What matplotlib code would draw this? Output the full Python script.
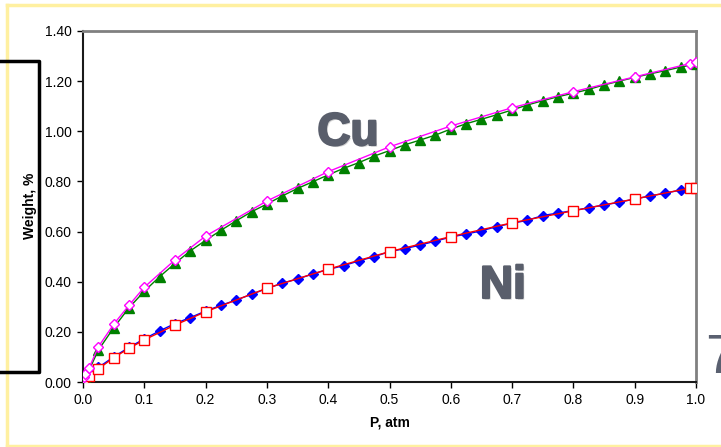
import matplotlib.pyplot as plt
import matplotlib.patheffects as pe
from matplotlib.lines import Line2D

plt.rcParams['font.family'] = ['Liberation Sans', 'DejaVu Sans']

# Cu - open magenta diamonds
p_cu_open = [0.001, 0.003, 0.01, 0.025, 0.05, 0.075, 0.1, 0.15, 0.2, 0.3, 0.4, 0.5, 0.6, 0.7, 0.8, 0.9, 0.99, 1.0]
w_cu_open = [0.02, 0.032, 0.056, 0.14, 0.23, 0.306, 0.378, 0.487, 0.582, 0.722, 0.839, 0.938, 1.021, 1.094, 1.158, 1.217, 1.270, 1.275]

# Cu - green triangles
p_cu_tri = [0.0, 0.003, 0.01, 0.025, 0.05, 0.075, 0.1, 0.125, 0.15, 0.175, 0.2, 0.225, 0.25, 0.275, 0.3,
            0.325, 0.35, 0.375, 0.4, 0.425, 0.45, 0.475, 0.5, 0.525, 0.55, 0.575, 0.6, 0.625, 0.65,
            0.675, 0.7, 0.725, 0.75, 0.775, 0.8, 0.825, 0.85, 0.875, 0.9, 0.925, 0.95, 0.975, 1.0]
w_cu_tri = [0.008, 0.02, 0.048, 0.127, 0.216, 0.296, 0.362, 0.42, 0.473, 0.523, 0.565, 0.605, 0.643, 0.679, 0.71,
            0.742, 0.772, 0.799, 0.826, 0.852, 0.875, 0.901, 0.923, 0.946, 0.965, 0.985, 1.009, 1.030, 1.048,
            1.066, 1.085, 1.105, 1.122, 1.138, 1.152, 1.167, 1.185, 1.2, 1.215, 1.229, 1.242, 1.256, 1.268]

# Ni - blue filled diamonds
p_ni_dia = [0.0, 0.01, 0.025, 0.05, 0.075, 0.1, 0.125, 0.15, 0.175, 0.2, 0.225, 0.25, 0.275, 0.3,
            0.325, 0.35, 0.375, 0.4, 0.425, 0.45, 0.475, 0.5, 0.525, 0.55, 0.575, 0.6, 0.625, 0.65,
            0.675, 0.7, 0.725, 0.75, 0.775, 0.8, 0.825, 0.85, 0.875, 0.9, 0.925, 0.95, 0.975, 1.0]
w_ni_dia = [0.0, 0.028, 0.058, 0.1, 0.138, 0.172, 0.204, 0.233, 0.257, 0.283, 0.306, 0.327, 0.35, 0.373,
            0.394, 0.411, 0.431, 0.449, 0.464, 0.483, 0.50, 0.52, 0.532, 0.546, 0.562, 0.578, 0.59, 0.603,
            0.62, 0.633, 0.645, 0.664, 0.674, 0.684, 0.695, 0.706, 0.717, 0.73, 0.742, 0.753, 0.766, 0.775]

# Ni - open red squares
p_ni_sq = [0.0, 0.01, 0.025, 0.05, 0.075, 0.1, 0.15, 0.2, 0.3, 0.4, 0.5, 0.6, 0.7, 0.8, 0.9, 0.99, 1.0]
w_ni_sq = [0.0, 0.025, 0.052, 0.097, 0.134, 0.168, 0.227, 0.28, 0.374, 0.45, 0.52, 0.58, 0.635, 0.683, 0.73, 0.773, 0.775]

x_ticks = [0.0, 0.1, 0.2, 0.3, 0.4, 0.5, 0.6, 0.7, 0.8, 0.9, 1.0]
y_ticks = [0.0, 0.2, 0.4, 0.6, 0.8, 1.0, 1.2, 1.4]

fig = plt.figure(figsize=(7.21, 4.47), dpi=100)
ax = fig.add_axes([83 / 721, 1 - 382 / 447, 613 / 721, 351 / 447])

# Ni curves
ax.plot(p_ni_dia, w_ni_dia, color='#0000ff', lw=1.0, marker='D', ms=5.5,
        mfc='#0000ff', mec='#0000ff', zorder=3)
ax.plot(p_ni_sq, w_ni_sq, color='#ff0000', lw=1.0, marker='s', ms=7,
        mfc='white', mec='#ff0000', mew=1.0, zorder=4)

# Cu curves
ax.plot(p_cu_tri, w_cu_tri, color='#008000', lw=1.0, marker='^', ms=7,
        mfc='#008000', mec='#008000', zorder=3)
ax.plot(p_cu_open, w_cu_open, color='#ff00ff', lw=1.0, marker='D', ms=5.5,
        mfc='white', mec='#ff00ff', mew=1.0, zorder=4)

ax.set_xlim(0, 1.0)
ax.set_ylim(0, 1.4)
ax.set_xticks(x_ticks)
ax.set_xticklabels([f'{v:.1f}' for v in x_ticks])
ax.set_yticks(y_ticks)
ax.set_yticklabels([f'{v:.2f}' for v in y_ticks])
ax.tick_params(direction='out', length=4, width=1, colors='black', labelsize=10, pad=4)

ax.spines['left'].set_color('#1a1a1a')
ax.spines['bottom'].set_color('#1a1a1a')
ax.spines['left'].set_linewidth(1.5)
ax.spines['bottom'].set_linewidth(1.5)
ax.spines['top'].set_color('#808080')
ax.spines['right'].set_color('#808080')
ax.spines['top'].set_linewidth(2)
ax.spines['right'].set_linewidth(2)

ax.set_xlabel('P, atm', fontsize=10, fontweight='bold', labelpad=6)
fig.text(30 / 721, 1 - 206 / 447, 'Weight, %', rotation=90, fontsize=10, fontweight='bold',
         ha='center', va='center')

# big element labels, heavy, with a soft shadow
label_col = '#595e6b'
shadow = [pe.withSimplePatchShadow(offset=(1.2, -1.2), shadow_rgbFace='#aaaaaa', alpha=0.5),
          pe.Stroke(linewidth=1.6, foreground=label_col), pe.Normal()]
fig.text(348 / 721, 1 - 145 / 447, 'Cu', fontsize=33, fontweight='bold', color=label_col,
         ha='center', va='baseline', path_effects=shadow)
fig.text(503 / 721, 1 - 298 / 447, 'Ni', fontsize=33, fontweight='bold', color=label_col,
         ha='center', va='baseline', path_effects=shadow)

# slide leftovers: yellow frame, black box, cut-off "7"
yellow = '#fff0a0'
fig.add_artist(Line2D([7 / 721, 1.0], [1 - 5 / 447, 1 - 5 / 447], color=yellow, lw=2.5))
fig.add_artist(Line2D([7 / 721, 7 / 721], [1 - 5 / 447, 1 / 447], color=yellow, lw=2.5))
fig.add_artist(Line2D([7 / 721, 1.0], [1 / 447, 1 / 447], color=yellow, lw=2.5))

fig.add_artist(Line2D([0, 39 / 721, 39 / 721, 0],
                      [1 - 61 / 447, 1 - 61 / 447, 1 - 372 / 447, 1 - 372 / 447],
                      color='black', lw=2.5))
fig.text(705 / 721, 1 - 373 / 447, '7', fontsize=40, color='#5a6070', ha='left', va='baseline')

plt.savefig('out.png', dpi=100)
